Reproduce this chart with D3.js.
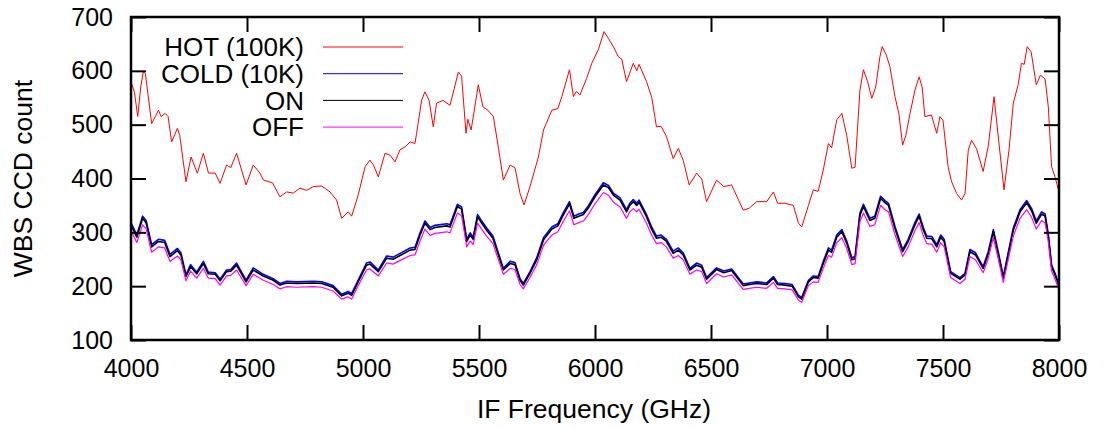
<!DOCTYPE html>
<html>
<head>
<meta charset="utf-8">
<script src="https://cdn.jsdelivr.net/npm/d3@7"></script>
<style>
  body { margin: 0; background: #fff; }
  text { font-family: "Liberation Sans", Arial, sans-serif; fill: #000; }
</style>
</head>
<body>
<div id="chart"></div>
<script>
// Chart size and plot box
const width = 1108;
const height = 428;
const margin = { top: 17, right: 49, bottom: 88, left: 131 };

// Tick labels
const xTicks = [4000, 4500, 5000, 5500, 6000, 6500, 7000, 7500, 8000];
const yTicks = [100, 200, 300, 400, 500, 600, 700];

// HOT (100K) spectrum
const hotFreq = [4000, 4015, 4029, 4042, 4053, 4062, 4089, 4105, 4118, 4130, 4147, 4160, 4175, 4200, 4210, 4237, 4259, 4286, 4312, 4334,
  4363, 4384, 4412, 4430, 4455, 4496, 4527, 4556, 4571, 4610, 4642, 4671, 4700, 4728, 4757, 4786, 4822, 4858, 4886, 4908,
  4936, 4951, 4979, 5009, 5030, 5045, 5066, 5095, 5117, 5138, 5159, 5185, 5203, 5224, 5231, 5253, 5267, 5285, 5303, 5317,
  5345, 5375, 5395, 5411, 5425, 5444, 5452, 5466, 5497, 5517, 5538, 5562, 5584, 5605, 5634, 5655, 5677, 5694, 5720, 5756,
  5778, 5814, 5840, 5857, 5890, 5907, 5920, 5935, 5964, 5986, 6014, 6039, 6058, 6079, 6101, 6115, 6136, 6165, 6180, 6190,
  6222, 6245, 6265, 6285, 6308, 6337, 6359, 6380, 6406, 6438, 6460, 6481, 6524, 6555, 6589, 6639, 6665, 6697, 6740, 6769,
  6787, 6819, 6855, 6877, 6891, 6920, 6941, 6962, 6984, 7006, 7020, 7042, 7064, 7085, 7107, 7121, 7142, 7157, 7175, 7193,
  7210, 7228, 7238, 7255, 7271, 7293, 7310, 7326, 7340, 7358, 7379, 7397, 7410, 7422, 7450, 7473, 7487, 7500, 7522, 7537,
  7559, 7580, 7595, 7609, 7623, 7645, 7673, 7695, 7720, 7740, 7763, 7785, 7803, 7824, 7838, 7850, 7863, 7880, 7902, 7920,
  7940, 7954, 7968, 7983, 8000];
const hot = [580, 560, 515, 570, 598, 595, 502, 515, 527, 515, 521, 515, 468, 493, 480, 394, 440, 410, 447, 410,
  410, 391, 425, 420, 447, 388, 425, 410, 397, 392, 366, 375, 373, 382, 378, 385, 386, 375, 360, 326,
  338, 330, 369, 422, 434, 425, 403, 447, 443, 431, 453, 460, 468, 465, 484, 546, 561, 545, 496, 540,
  545, 536, 570, 598, 590, 484, 510, 490, 574, 533, 527, 515, 456, 397, 425, 420, 372, 351, 385, 440,
  490, 527, 530, 552, 602, 552, 562, 555, 586, 614, 639, 673, 660, 645, 626, 622, 580, 614, 600, 612,
  580, 550, 496, 497, 478, 437, 456, 434, 388, 410, 399, 357, 397, 385, 388, 341, 345, 357, 357, 375,
  354, 354, 350, 317, 310, 350, 379, 376, 416, 465, 457, 509, 521, 480, 419, 421, 564, 602, 580, 549,
  570, 626, 645, 630, 608, 552, 520, 462, 480, 521, 564, 589, 570, 515, 518, 484, 515, 508, 422, 394,
  372, 360, 372, 453, 471, 455, 413, 460, 552, 470, 379, 455, 540, 574, 614, 612, 645, 635, 574, 592,
  585, 533, 422, 403, 375];

// COLD / ON / OFF spectra share one frequency grid
const lowFreq = [4000, 4025, 4050, 4065, 4089, 4118, 4145, 4168, 4200, 4215, 4237, 4257, 4283, 4312, 4333, 4363, 4384, 4412, 4430, 4455,
  4496, 4527, 4570, 4613, 4642, 4671, 4714, 4786, 4822, 4871, 4908, 4936, 4951, 4979, 5015, 5030, 5066, 5102, 5130, 5152,
  5203, 5224, 5246, 5267, 5290, 5310, 5361, 5375, 5407, 5425, 5447, 5462, 5475, 5494, 5510, 5533, 5560, 5605, 5634, 5655,
  5677, 5691, 5720, 5749, 5778, 5814, 5840, 5863, 5890, 5909, 5930, 5950, 5971, 6000, 6036, 6058, 6079, 6108, 6136, 6150,
  6165, 6180, 6190, 6222, 6245, 6265, 6285, 6308, 6337, 6359, 6380, 6409, 6438, 6460, 6481, 6524, 6555, 6589, 6639, 6665,
  6697, 6740, 6769, 6787, 6819, 6850, 6877, 6891, 6920, 6941, 6962, 6984, 7006, 7020, 7042, 7064, 7085, 7107, 7121, 7142,
  7157, 7185, 7206, 7231, 7250, 7265, 7293, 7326, 7350, 7379, 7397, 7415, 7430, 7452, 7473, 7490, 7505, 7533, 7573, 7595,
  7616, 7640, 7673, 7695, 7717, 7738, 7760, 7782, 7803, 7832, 7861, 7882, 7902, 7925, 7940, 7954, 7968, 7983, 8000];
const on = [314, 291, 326, 318, 273, 283, 281, 255, 266, 258, 218, 236, 223, 242, 223, 222, 210, 227, 228, 239,
  208, 230, 219, 211, 202, 206, 205, 206, 205, 198, 182, 187, 183, 208, 239, 241, 227, 252, 250, 255,
  267, 268, 295, 317, 305, 309, 312, 310, 348, 343, 283, 295, 287, 329, 318, 304, 289, 230, 242, 240,
  211, 202, 224, 249, 286, 306, 312, 332, 353, 326, 330, 333, 345, 366, 388, 383, 369, 360, 338, 350,
  357, 350, 356, 329, 305, 289, 291, 283, 261, 267, 258, 230, 239, 235, 213, 231, 225, 229, 201, 203,
  205, 203, 215, 203, 202, 200, 180, 176, 208, 216, 215, 242, 267, 263, 291, 301, 280, 249, 251, 332,
  348, 322, 326, 363, 355, 350, 307, 264, 283, 314, 330, 305, 289, 288, 273, 291, 283, 224, 213, 221,
  264, 258, 233, 260, 301, 260, 215, 260, 304, 338, 355, 340, 317, 334, 330, 292, 236, 221, 200];
const cold = [318, 295, 330, 322, 277, 287, 285, 259, 270, 262, 221, 240, 226, 246, 226, 225, 213, 230, 231, 243,
  211, 234, 222, 214, 205, 209, 208, 209, 208, 201, 185, 190, 186, 211, 243, 245, 230, 256, 254, 259,
  271, 272, 299, 321, 309, 313, 316, 314, 352, 347, 287, 299, 291, 333, 322, 308, 293, 233, 246, 244,
  214, 205, 227, 253, 290, 310, 316, 336, 357, 330, 334, 337, 349, 370, 392, 387, 373, 364, 342, 354,
  361, 354, 360, 333, 309, 293, 295, 287, 265, 271, 262, 233, 243, 239, 216, 234, 228, 232, 204, 206,
  208, 206, 218, 206, 205, 203, 183, 179, 211, 219, 218, 246, 271, 267, 295, 305, 284, 253, 255, 336,
  352, 326, 330, 367, 359, 354, 311, 268, 287, 318, 334, 309, 293, 292, 277, 295, 287, 227, 216, 224,
  268, 262, 236, 264, 305, 264, 218, 264, 308, 342, 359, 344, 321, 338, 334, 296, 239, 224, 203];
const off = [303, 281, 314, 307, 263, 273, 271, 246, 256, 249, 210, 228, 215, 233, 215, 214, 202, 219, 220, 230,
  201, 222, 211, 203, 195, 199, 198, 199, 198, 191, 176, 180, 176, 201, 230, 232, 219, 243, 241, 246,
  257, 258, 284, 306, 294, 298, 301, 299, 336, 331, 273, 284, 277, 317, 307, 293, 279, 222, 233, 231,
  203, 195, 216, 240, 276, 295, 301, 320, 340, 314, 318, 321, 333, 353, 374, 369, 356, 347, 326, 338,
  344, 338, 343, 317, 294, 279, 281, 273, 252, 257, 249, 222, 230, 227, 205, 223, 217, 221, 194, 196,
  198, 196, 207, 196, 195, 193, 174, 170, 201, 208, 207, 233, 257, 254, 281, 290, 270, 240, 242, 320,
  336, 311, 314, 350, 342, 338, 296, 255, 273, 303, 318, 294, 279, 278, 263, 281, 273, 216, 205, 213,
  255, 249, 225, 251, 290, 251, 207, 251, 293, 326, 342, 328, 306, 322, 318, 282, 228, 213, 193];

const series = [
  { name: "HOT (100K)", freq: hotFreq, values: hot, color: "#ff0000", width: 1 },
  { name: "COLD (10K)", freq: lowFreq, values: cold, color: "#0000ff", width: 1.6 },
  { name: "ON", freq: lowFreq, values: on, color: "#000000", width: 1.6 },
  { name: "OFF", freq: lowFreq, values: off, color: "#ff00ff", width: 1.2 }
];

const svg = d3.select("#chart")
    .append("svg")
    .attr("width", width)
    .attr("height", height);

const x = d3.scaleLinear().domain([4000, 8000]).range([margin.left, width - margin.right]);
const y = d3.scaleLinear().domain([100, 700]).range([height - margin.bottom, margin.top]);

// Curves
const line = d3.line().x(d => x(d[0])).y(d => y(d[1]));
series.forEach(s => {
    svg.append("path")
        .datum(s.freq.map((f, i) => [f, s.values[i]]))
        .attr("fill", "none")
        .attr("stroke", s.color)
        .attr("stroke-width", s.width)
        .attr("stroke-linejoin", "round")
        .attr("d", line);
});

// Axes: gnuplot style, ticks inside and mirrored
const tickLen = 15;
const tickFont = 25;
const titleFont = 26.5;
const fmt = d3.format("d");
const axLeft = svg.append("g").attr("transform", `translate(${margin.left},0)`)
    .call(d3.axisLeft(y).tickValues(yTicks).tickFormat(fmt).tickSizeInner(-tickLen).tickSizeOuter(0).tickPadding(18));
const axRight = svg.append("g").attr("transform", `translate(${width - margin.right},0)`)
    .call(d3.axisRight(y).tickValues(yTicks).tickSizeInner(-tickLen).tickSizeOuter(0).tickFormat(""));
const axBottom = svg.append("g").attr("transform", `translate(0,${height - margin.bottom})`)
    .call(d3.axisBottom(x).tickValues(xTicks).tickFormat(fmt).tickSizeInner(-tickLen).tickSizeOuter(0).tickPadding(19));
const axTop = svg.append("g").attr("transform", `translate(0,${margin.top})`)
    .call(d3.axisTop(x).tickValues(xTicks).tickSizeInner(-tickLen).tickSizeOuter(0).tickFormat(""));

[axLeft, axRight, axBottom, axTop].forEach(g => {
    g.select(".domain").remove();
    g.selectAll(".tick line").attr("stroke", "#000").attr("stroke-width", 2);
    g.selectAll(".tick text").attr("font-size", tickFont).attr("font-family", "Liberation Sans, Arial, sans-serif").attr("fill", "#000");
});

// Frame
svg.append("rect")
    .attr("x", margin.left)
    .attr("y", margin.top)
    .attr("width", width - margin.left - margin.right)
    .attr("height", height - margin.top - margin.bottom)
    .attr("fill", "none")
    .attr("stroke", "#000")
    .attr("stroke-width", 2.5);

// Axis titles
svg.append("text")
    .attr("x", 594)
    .attr("y", 418)
    .attr("text-anchor", "middle")
    .attr("font-size", titleFont)
    .text("IF Frequency (GHz)");

svg.append("text")
    .attr("transform", `translate(32,${(margin.top + height - margin.bottom) / 2}) rotate(-90)`)
    .attr("text-anchor", "middle")
    .attr("font-size", titleFont)
    .text("WBS CCD count");

// Legend
const legend = svg.append("g");
series.forEach((s, i) => {
    const ly = 47 + i * 26.7;
    legend.append("text")
        .attr("x", 304)
        .attr("y", ly)
        .attr("dy", "0.35em")
        .attr("text-anchor", "end")
        .attr("font-size", 26)
        .text(s.name);
    legend.append("line")
        .attr("x1", 323).attr("x2", 403)
        .attr("y1", ly).attr("y2", ly)
        .attr("stroke", s.color)
        .attr("stroke-width", 1);
});
</script>
</body>
</html>
